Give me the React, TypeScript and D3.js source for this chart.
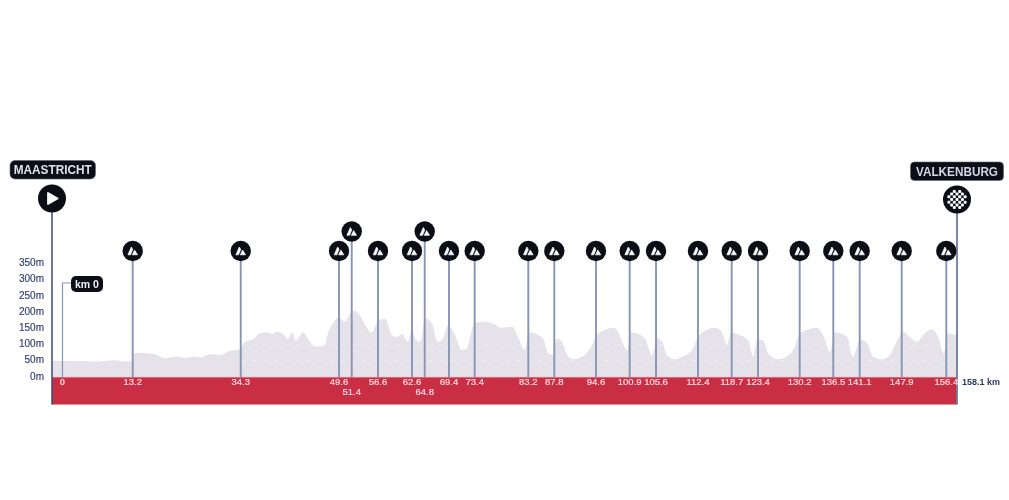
import React from "react";
import * as d3 from "d3";

const W = 1009;
const H = 500;
const TOTAL_KM = 158.1;

const profileKm = [0,2.3,4.5,7.5,11,12.8,13.8,14.3,15.7,18,19.7,22,23.2,25,25.9,27.6,29.3,31.1,32.8,33.7,35.1,36.3,37.6,38.4,39.3,40.4,41.2,41.9,42.6,43.9,44.7,45.8,46.5,47.7,48.2,49.1,50,51.2,52.1,52.9,53.8,54.7,55.9,57,58.2,59.4,60.4,61.1,62.2,62.9,63.6,64.3,65.2,66.4,67.4,68.3,69.2,70.4,71.6,72.5,73.4,74.2,75.6,77,78.6,80.4,81.4,82.6,83.3,84.7,85.8,86.7,87.5,88.2,89.1,90,91,92.6,94,95.2,96.3,98,98.7,99.6,100.5,101,102.4,103.6,104.8,105.7,106.6,107.4,108.8,110.2,111.8,112.9,114.4,115.8,117,117.9,118.6,119.8,121.6,122.5,123.2,124.2,125.1,126.7,128.1,129.5,130.7,133.6,134.7,135.9,136.8,138.9,139.9,141.2,142.4,143.4,145,146.4,147.6,148.7,149.9,151.1,152.2,153.7,154.8,155.8,156.5,157.9,158.1];
const profileM = [50,49,49,47,52,47,49,73,75,70,58,63,59,63,60,70,68,81,86,109,116,135,138,133,140,133,117,138,112,138,119,96,94,99,135,166,184,171,197,204,191,160,138,176,179,130,124,133,109,150,114,109,181,166,109,119,160,130,83,89,150,168,171,164,152,155,124,83,138,132,119,73,68,119,109,68,55,63,89,130,143,152,145,109,83,138,133,119,68,119,109,68,55,63,83,124,145,152,140,99,138,132,114,63,116,114,73,55,61,83,135,152,130,78,138,124,63,116,104,63,55,68,111,140,123,109,130,147,124,73,135,130,130];

const climbLabels = ["13.2","34.3","49.6","51.4","56.6","62.6","64.8","69.4","73.4","83.2","87.8","94.6","100.9","105.6","112.4","118.7","123.4","130.2","136.5","141.1","147.9","156.4"];
const climbDrawnKm = [14.1,32.97,50.14,52.36,56.95,62.89,65.11,69.35,73.84,83.21,87.75,95.03,100.92,105.52,112.85,118.74,123.34,130.62,136.49,141.1,148.44,156.23];
const climbRaised = ["51.4","64.8"];

const elevationTicks = [0,50,100,150,200,250,300,350];
const gridLevels = [50,100];
const startName = "MAASTRICHT";
const finishName = "VALKENBURG";
const kmZeroDrawn = 1.83;

const x = d3.scaleLinear().domain([0, TOTAL_KM]).range([52, 957]);
const y = d3.scaleLinear().domain([0, 350]).range([377, 263.6]);

const profile = profileKm.map((k, i) => ({ k, m: profileM[i] }));
const area = d3.area<{ k: number; m: number }>()
  .x(d => x(d.k)).y0(y(0)).y1(d => y(d.m)).curve(d3.curveMonotoneX);

const NAVY = "#0b0d18";
const STEM = "#8794b6";
const dots: [number, number][] = [];
for (let r = -3; r <= 3; r++) for (let c = -3; c <= 3; c++) if ((r + c) % 2 === 0 && Math.hypot(r, c) < 3.3) dots.push([c, r]);

function ClimbIcon({ cx, cy }: { cx: number; cy: number }) {
  return (
    <g transform={`translate(${cx},${cy})`}>
      <circle r={10.2} fill={NAVY} />
      <path d="M-4.8,3.8 L-1.4,-4 L0,-1.6 L-2.2,3.8 Z" fill="#fff" stroke="#fff" strokeWidth={0.7} strokeLinejoin="round" />
      <path d="M-0.4,3.8 L1.9,-0.9 L4.8,3.8 Z" fill="#fff" stroke="#fff" strokeWidth={0.7} strokeLinejoin="round" />
    </g>
  );
}

export default function App() {
  return (
    <svg width={W} height={H} viewBox={`0 0 ${W} ${H}`} style={{ position: "absolute", left: 0, top: 0, background: "#fff" }} fontFamily="'Liberation Sans', Arial, sans-serif">
      <defs>
        <filter id="soft" x="-2%" y="-2%" width="104%" height="104%"><feGaussianBlur stdDeviation="0.6" /></filter>
        <clipPath id="areaClip"><path d={area(profile) ?? ""} /></clipPath>
      </defs>
      <g filter="url(#soft)">
        <path d={area(profile) ?? ""} fill="#e6e2ea" />
        <g clipPath="url(#areaClip)">
          {gridLevels.map(v => (
            <line key={v} x1={x(33)} x2={x(TOTAL_KM)} y1={y(v)} y2={y(v)} stroke="#fff" strokeOpacity={0.35} strokeWidth={1} strokeDasharray="5 6" />
          ))}
        </g>
        <rect x={x(0)} y={y(0)} width={x(TOTAL_KM) - x(0)} height={27.5} fill="#c92f45" />
        <line x1={x(0)} x2={x(TOTAL_KM)} y1={y(0)} y2={y(0)} stroke="#f3c9cf" strokeWidth={0.8} />

        {elevationTicks.map(v => (
          <text key={v} x={44} y={y(v) + 2.5} textAnchor="end" fontSize={10} fill="#2f3e6e" stroke="#2f3e6e" strokeWidth={0.15}>{v}m</text>
        ))}

        <line x1={x(0)} x2={x(0)} y1={198} y2={404.5} stroke="#3b4a70" strokeWidth={1.5} />
        <line x1={x(TOTAL_KM)} x2={x(TOTAL_KM)} y1={199} y2={404.5} stroke="#6c7a9c" strokeWidth={1.8} />

        <path d={`M${x(kmZeroDrawn)},${y(0)} V283 H72`} fill="none" stroke={STEM} strokeWidth={1.2} />
        <rect x={71} y={276} width={32} height={16} rx={5} fill={NAVY} />
        <text x={87} y={287.6} textAnchor="middle" fontSize={10.5} fontWeight={700} fill="#f0f0f5">km 0</text>
        <text x={x(kmZeroDrawn)} y={384.5} textAnchor="middle" fontSize={9.5} fontWeight={700} fill="#fbd9de">0</text>

        {climbLabels.map((label, i) => {
          const raised = climbRaised.includes(label);
          const cx = x(climbDrawnKm[i]);
          const cy = raised ? 231.5 : 251;
          return (
            <g key={label}>
              <line x1={cx} x2={cx} y1={cy} y2={y(0)} stroke={STEM} strokeWidth={1.9} />
              <ClimbIcon cx={cx} cy={cy} />
              <text x={cx} y={raised ? 394.5 : 384.5} textAnchor="middle" fontSize={9.5} fill="#fbd9de" stroke="#fbd9de" strokeWidth={0.2}>{label}</text>
            </g>
          );
        })}

        <text x={962} y={385} fontSize={9} fontWeight={700} fill="#2c3a63">158.1 km</text>

        <rect x={10} y={160.5} width={85.5} height={18.5} rx={5} fill={NAVY} stroke="#5a6484" strokeWidth={0.6} />
        <text x={52.7} y={174.2} textAnchor="middle" fontSize={12} fontWeight={700} fill="#dfe2ee" textLength={78} lengthAdjust="spacingAndGlyphs">{startName}</text>
        <circle cx={x(0)} cy={198.5} r={14} fill={NAVY} />
        <path d="M48,193 L57.6,198.5 L48,204 Z" fill="#fff" stroke="#fff" strokeWidth={1.8} strokeLinejoin="round" />

        <rect x={910.5} y={162} width={93} height={18.5} rx={4} fill={NAVY} stroke="#5a6484" strokeWidth={0.6} />
        <text x={957} y={175.6} textAnchor="middle" fontSize={12} fontWeight={700} fill="#d3d6e6" textLength={82} lengthAdjust="spacingAndGlyphs">{finishName}</text>
        <circle cx={x(TOTAL_KM)} cy={199.5} r={14} fill={NAVY} />
        {dots.map(([c, r]) => (
          <rect key={`${c}-${r}`} x={x(TOTAL_KM) + c * 2.7 - 1.5} y={199.5 + r * 2.7 - 1.5} width={3} height={3} rx={1} fill="#fff" />
        ))}
      </g>
    </svg>
  );
}
